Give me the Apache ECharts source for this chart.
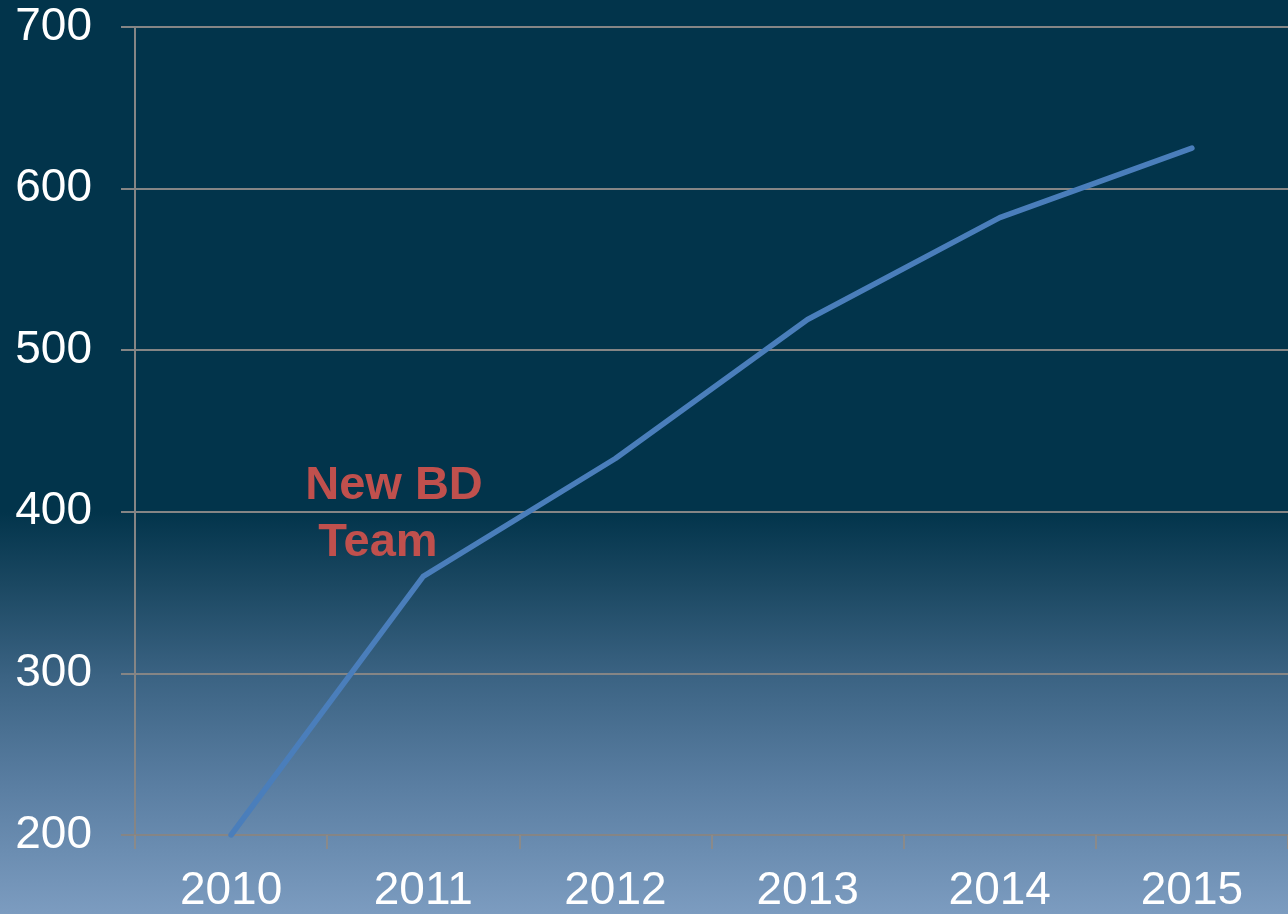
<!DOCTYPE html>
<html>
<head>
<meta charset="utf-8">
<script src="https://cdn.jsdelivr.net/npm/echarts@6/dist/echarts.min.js"></script>
<style>
  html, body { margin: 0; padding: 0; }
  #chart {
    width: 1288px;
    height: 914px;
    background: linear-gradient(to bottom, #02344b 0%, #02344b 56%, #1b4862 64%, #3b6383 74%, #5a7ea2 86%, #7c9cc0 100%);
  }
</style>
</head>
<body>
<div id="chart"></div>
<script>
  const years = ["2010", "2011", "2012", "2013", "2014", "2015"];
  const values = [200, 360, 433, 519, 582, 625];
  const noteLines = ["New BD", "Team"];

  const chart = echarts.init(document.getElementById("chart"));
  const font = "'Liberation Sans', Arial, sans-serif";

  const option = {
    animation: false,
    grid: { left: 135, right: -5, top: 27, bottom: 77 },
    xAxis: {
      type: "category",
      data: years,
      boundaryGap: true,
      axisLine: { lineStyle: { color: "#858585", width: 2 } },
      axisTick: { show: true, length: 14, interval: 0, lineStyle: { color: "#8a8a8a", width: 2 } },
      axisLabel: { color: "#ffffff", fontSize: 46, fontFamily: font, margin: 33 }
    },
    yAxis: {
      type: "value",
      min: 200,
      max: 700,
      interval: 100,
      axisLine: { show: true, lineStyle: { color: "#858585", width: 2 } },
      axisTick: { show: true, length: 14, lineStyle: { color: "#858585", width: 2 } },
      splitLine: { lineStyle: { color: "#858585", width: 2 } },
      axisLabel: { color: "#ffffff", fontSize: 46, fontFamily: font, margin: 43 }
    },
    // annotation text, one element per line
    graphic: [
      {
        type: "text",
        x: 394,
        y: 486,
        style: {
          text: noteLines[0],
          fill: "#c0504d",
          font: "bold 47px " + font,
          textAlign: "center",
          textVerticalAlign: "middle"
        }
      },
      {
        type: "text",
        x: 378,
        y: 543,
        style: {
          text: noteLines[1],
          fill: "#c0504d",
          font: "bold 47px " + font,
          textAlign: "center",
          textVerticalAlign: "middle"
        }
      }
    ],
    series: [
      {
        type: "line",
        data: values,
        symbol: "none",
        smooth: false,
        lineStyle: { color: "#4a7ebb", width: 5.5, cap: "round", join: "round" }
      }
    ]
  };

  chart.setOption(option);
</script>
</body>
</html>
